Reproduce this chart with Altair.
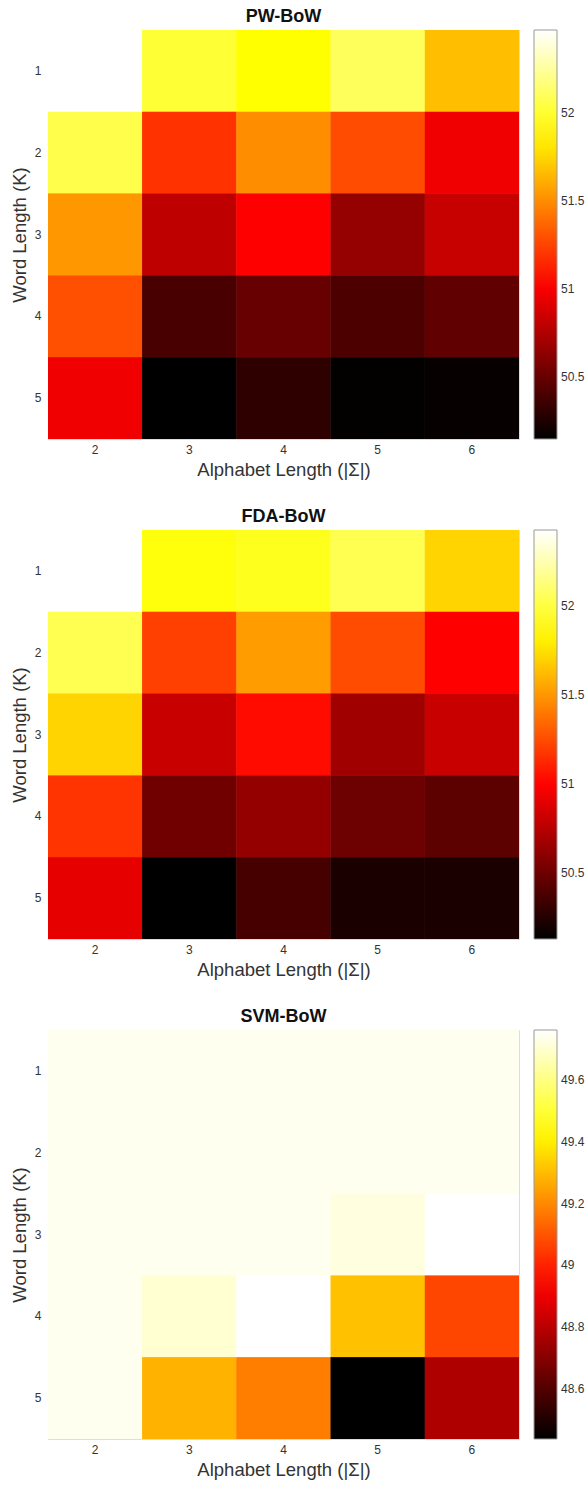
import altair as alt
import pandas as pd

# Grid axes: alphabet size (columns) and word length (rows)
alphabet = [2, 3, 4, 5, 6]
word_len = [1, 2, 3, 4, 5]

# Accuracy (%) per (word length, alphabet size); rows follow word_len, columns follow alphabet
pw_bow = [
    [52.47, 52.01, 51.89, 52.10, 51.67],
    [52.06, 51.19, 51.50, 51.28, 50.97],
    [51.54, 50.80, 51.02, 50.66, 50.83],
    [51.29, 50.40, 50.50, 50.41, 50.48],
    [50.97, 50.15, 50.31, 50.16, 50.17],
]
fda_bow = [
    [52.43, 51.88, 51.92, 52.04, 51.71],
    [52.04, 51.21, 51.52, 51.25, 50.99],
    [51.71, 50.81, 51.03, 50.67, 50.81],
    [51.17, 50.51, 50.63, 50.50, 50.44],
    [50.91, 50.13, 50.37, 50.22, 50.22],
]
svm_bow = [
    [49.74, 49.74, 49.74, 49.74, 49.74],
    [49.74, 49.74, 49.74, 49.74, 49.74],
    [49.74, 49.74, 49.74, 49.72, 49.76],
    [49.74, 49.70, 49.76, 49.31, 49.07],
    [49.74, 49.28, 49.18, 48.44, 48.78],
]

titles = ["PW-BoW", "FDA-BoW", "SVM-BoW"]
grids = [pw_bow, fda_bow, svm_bow]
colorbar_ticks = [
    [50.5, 51, 51.5, 52],
    [50.5, 51, 51.5, 52],
    [48.6, 48.8, 49, 49.2, 49.4, 49.6],
]

# "hot" colour map: black -> red -> yellow -> white
HOT = ["#000000", "#ff0000", "#ffff00", "#ffffff"]
FONT = "Liberation Sans"
TEXT = "#333333"


def panel(title, grid, ticks):
    rows = [
        {"K": k, "A": a, "acc": grid[i][j]}
        for i, k in enumerate(word_len)
        for j, a in enumerate(alphabet)
    ]
    df = pd.DataFrame(rows)
    lo, hi = float(df.acc.min()), float(df.acc.max())
    span = hi - lo
    domain = [lo, lo + 0.375 * span, lo + 0.75 * span, hi]
    hot_scale = alt.Scale(domain=domain, range=HOT, interpolate="rgb")

    cells = (
        alt.Chart(df)
        .mark_rect()
        .encode(
            x=alt.X(
                "A:O",
                title="Alphabet Length (|Σ|)",
                axis=alt.Axis(
                    labelAngle=0, ticks=False, domain=False,
                    labelFontSize=12, labelColor=TEXT, labelFont=FONT,
                    labelPadding=5, titleFontSize=18.5, titleFont=FONT,
                    titleFontWeight="normal", titleColor=TEXT, titlePadding=5,
                ),
            ),
            y=alt.Y(
                "K:O",
                title="Word Length (K)",
                axis=alt.Axis(
                    ticks=False, domain=False,
                    labelFontSize=12, labelColor=TEXT, labelFont=FONT,
                    labelPadding=7, titleFontSize=18.5, titleFont=FONT,
                    titleFontWeight="normal", titleColor=TEXT, titlePadding=5,
                ),
            ),
            color=alt.Color(
                "acc:Q",
                scale=hot_scale,
                legend=alt.Legend(
                    title=None, values=ticks, format=".1~f",
                    orient="right", direction="vertical",
                    gradientLength=409, gradientThickness=23,
                    gradientStrokeColor="#999999", gradientStrokeWidth=1,
                    labelFontSize=12, labelFont=FONT, labelColor=TEXT,
                    labelOffset=4, labelOverlap=False, offset=15, padding=0,
                ),
            ),
        )
    )

    # the cells are painted twice so anti-aliased edges between neighbours close up
    return alt.layer(cells, cells, title=alt.TitleParams(
        title, fontSize=18, fontWeight="bold", font=FONT,
        color="#111111", anchor="middle", offset=4,
    )).properties(width=471, height=409)


chart = (
    alt.vconcat(*[panel(t, g, tk) for t, g, tk in zip(titles, grids, colorbar_ticks)], spacing=28)
    .resolve_scale(color="independent")
    .properties(padding={"left": 9, "top": 7, "right": 0, "bottom": 5})
    .configure_view(stroke="#999999", strokeWidth=1)
    .configure(background="white")
)

chart.save("out.html", embed_options={"renderer": "svg", "actions": False})
